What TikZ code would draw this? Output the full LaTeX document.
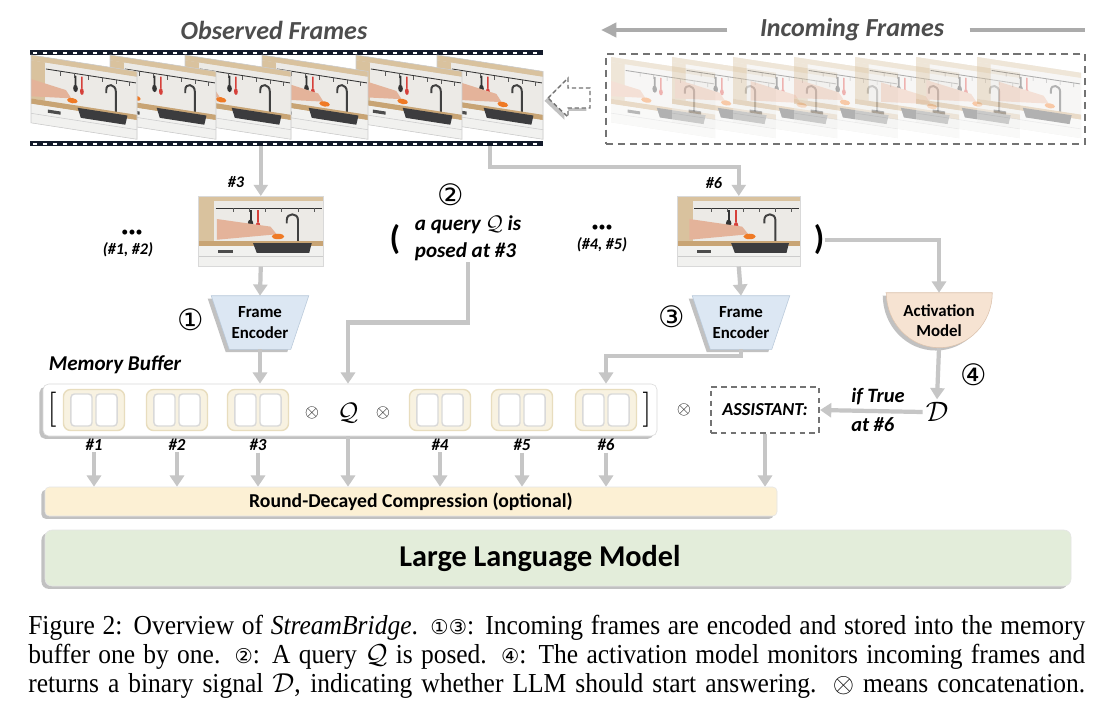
\documentclass[tikz,border=0pt]{standalone}
\usepackage{fix-cm}
\usepackage{fontspec}
\setmainfont{Carlito}
\newfontfamily\capfont{Liberation Serif}[FakeStretch=0.93]
\newfontfamily\circfont{DejaVu Sans}
\usetikzlibrary{arrows.meta,calc,shadows,backgrounds}
\definecolor{connGray}{HTML}{C6C6C6}
\definecolor{arrowGray}{HTML}{ABABAB}
\definecolor{titleGray}{HTML}{4D4D4D}
\definecolor{dashGray}{HTML}{737373}
\definecolor{encFill}{HTML}{DCE7F3}
\definecolor{encEdge}{HTML}{B9C9DA}
\definecolor{actFill}{HTML}{F6E3D2}
\definecolor{actEdge}{HTML}{DCC3AE}
\definecolor{compFill}{HTML}{FCF0D4}
\definecolor{llmFill}{HTML}{E3EDDA}
\definecolor{tokFill}{HTML}{F8F2E1}
\definecolor{tokEdge}{HTML}{E8DDBE}
\definecolor{filmBlack}{HTML}{141B2B}
\definecolor{wallC}{HTML}{DCD8D2}
\definecolor{splashC}{HTML}{ECEAE6}
\definecolor{woodC}{HTML}{D9C29E}
\definecolor{counterC}{HTML}{C8A474}
\definecolor{cabC}{HTML}{F1F1EF}
\definecolor{sinkC}{HTML}{3C3C3E}
\definecolor{skinC}{HTML}{E4B39A}
\definecolor{redC}{HTML}{D6403A}
\definecolor{carrotC}{HTML}{EF7A25}
\newcommand{\pxu}{0.025cm}
%% A small kitchen snapshot in a 100 x 64 box, #1 = where the hands are.
\newcommand{\kitchen}[1]{%%
  \begin{scope}
  \clip (0,0) rectangle (100,64);
  \fill[wallC] (0,0) rectangle (100,64);
  \fill[splashC] (13,5) rectangle (100,41);
  \fill[woodC] (0,0) rectangle (100,5);
  \fill[woodC] (0,5) rectangle (13,41);
  \draw[black!80,line width=0.6pt] (14,11) -- (99,11);
  \foreach \hk in {28,41,54,67,80,93}{\draw[black!65,line width=0.4pt] (\hk,11) -- (\hk,15);}
  \fill[black!80] (41.2,13) rectangle (42.8,22);
  \fill[black!80] (42,25) ellipse (2.2 and 3.5);
  \fill[redC] (47.3,13) rectangle (48.7,24);
  \fill[redC] (48,27) ellipse (1.8 and 3.2);
  \draw[black!75,line width=1.4pt] (80,44) -- (80,22) .. controls (80,15) and (71,15) .. (71,22) -- (71,25);
  \fill[counterC] (0,41) rectangle (100,46);
  \fill[cabC] (0,46) rectangle (100,64);
  \fill[sinkC] (44,43) -- (91,43) -- (89,52) -- (47,52) -- cycle;
  \draw[black!20,line width=0.4pt] (0,55) -- (100,55);
  \fill[black!70] (16,49) rectangle (28,52);
  \fill[skinC] (#1-45,21) -- (#1-2,28) -- (#1+3,35) -- (#1-45,40) -- cycle;
  \fill[carrotC] (#1+4,37) ellipse (5 and 2.5);
  \end{scope}
}
%% A snapshot as a node: name, left, top, width, height, hands.
\newcommand{\snapshot}[6]{%%
  \begin{scope}[shift={(#2,#3)},xscale=#4/100,yscale=#5/64]
    \kitchen{#6}
  \end{scope}
  \node[snapStyle,minimum width=#4*\pxu,minimum height=#5*\pxu] (#1) at (#2,#3) {};
}
\newcommand{\capcirc}[1]{{\circfont\fontsize{14.5}{14.5}\selectfont #1}}
\begin{document}
\begin{tikzpicture}[%%
  x=0.025cm,y=-0.025cm,
  conn/.style={draw=connGray,line width=3pt,-{Triangle[width=10pt,length=8pt]}},
  inArrow/.style={draw=arrowGray,line width=3.5pt,-{Triangle[width=10pt,length=11pt]}},
  inLine/.style={draw=arrowGray,line width=3.5pt},
  shadowStyle/.style={drop shadow={shadow xshift=-2.5pt,shadow yshift=-2pt,fill=black!40,opacity=0.6}},
  snapStyle/.style={anchor=north west,inner sep=0,draw=black!15,line width=0.4pt},
  titleStyle/.style={font=\bfseries\itshape\fontsize{18.5}{22}\selectfont,text=titleGray,inner sep=0},
  smallLabel/.style={font=\bfseries\itshape\fontsize{11.5}{13}\selectfont,inner sep=1pt},
  idxLabel/.style={font=\bfseries\itshape\fontsize{12}{14}\selectfont,inner sep=1pt},
  dotStyle/.style={font=\fontsize{10}{10}\selectfont,inner sep=0},
  encText/.style={font=\bfseries\fontsize{12}{14.5}\selectfont,align=center,
    minimum width=61*\pxu,minimum height=53*\pxu,inner sep=0},
  actText/.style={font=\bfseries\fontsize{12}{14.5}\selectfont,align=center,
    minimum width=106*\pxu,minimum height=55*\pxu,inner sep=0},
  circNum/.style={font=\circfont\fontsize{21}{21}\selectfont,inner sep=0},
  queryStyle/.style={font=\bfseries\itshape\fontsize{15}{19.5}\selectfont,align=left,inner sep=1pt},
  parenStyle/.style={font=\bfseries\fontsize{24}{24}\selectfont,inner sep=0},
  memLabel/.style={font=\bfseries\itshape\fontsize{15}{18}\selectfont,inner sep=0},
  memBox/.style={draw=black!15,fill=white,rounded corners=4pt,
    minimum width=614*\pxu,minimum height=52*\pxu,shadowStyle},
  bracketStyle/.style={font=\fontsize{25}{25}\selectfont,inner sep=0},
  tok/.style={fill=tokFill,draw=tokEdge,line width=1pt,rounded corners=5pt,
    minimum width=61*\pxu,minimum height=41*\pxu,
    path picture={\foreach \s in {-1,1}{
      \draw[black!15,fill=white,rounded corners=2.5pt]
        ([xshift=\s*8.9pt-7.5pt,yshift=-11.4pt]path picture bounding box.center) rectangle ++(15pt,22.8pt);}}},
  opStyle/.style={font=\fontsize{13}{13}\selectfont,inner sep=0},
  symStyle/.style={font=\fontsize{18}{18}\selectfont,inner sep=2pt},
  asstStyle/.style={draw=dashGray,dash pattern=on 4pt off 3pt,line width=1.5pt,
    minimum width=108*\pxu,minimum height=46*\pxu,inner sep=0,
    font=\bfseries\itshape\fontsize{13}{15}\selectfont},
  ifStyle/.style={font=\bfseries\itshape\fontsize{14.5}{16}\selectfont,inner sep=0,anchor=west},
  compStyle/.style={fill=compFill,draw=black!10,rounded corners=3pt,
    minimum width=732*\pxu,minimum height=29*\pxu,
    font=\bfseries\fontsize{14}{16}\selectfont,shadowStyle},
  llmStyle/.style={fill=llmFill,draw=black!10,rounded corners=5pt,
    minimum width=1026*\pxu,minimum height=56*\pxu,shadowStyle},
  llmText/.style={font=\bfseries\fontsize{21.5}{24}\selectfont,inner sep=0}
]
\useasboundingbox (0,0) rectangle (1116,718);
\begin{scope}[on background layer]
  \fill[white] (0,0) rectangle (1116,718);
\end{scope}
%%
%% Titles.
\node[titleStyle] (obsTitle) at (274,30) {Observed Frames};
\node[titleStyle] (inTitle) at (852,30) {Incoming Frames};
\coordinate (inArrowEnd) at (601,30);
\coordinate (inLineEnd) at (1085,30);
\draw[inArrow,shorten <=23pt] (inTitle.west) -- (inArrowEnd);
\draw[inLine,shorten <=18pt] (inTitle.east) -- (inLineEnd);
%%
%% The film strip of observed frames.
\node[minimum width=513*\pxu,minimum height=96*\pxu,inner sep=0] (strip) at (286.5,98) {};
\fill[filmBlack] (strip.north west) rectangle ++(513,5);
\fill[filmBlack] (strip.south west) rectangle ++(513,-5);
\foreach \k in {0,...,50}{
  \fill[white] (33+\k*10,51.5) rectangle ++(4,2);
  \fill[white] (33+\k*10,142.5) rectangle ++(4,2);
}
\foreach \fx/\hx in {437/58,356/40,262/55,185/30,110/20,31/35}{
  \begin{scope}[shift={(\fx,55)},xscale=1.06,yscale=1.06,yslant=-0.155]
    \kitchen{\hx}
    \draw[black!20,line width=0.4pt] (0,0) rectangle (100,64);
  \end{scope}
}
%% The hollow arrow.
\filldraw[fill=white,draw=dashGray,dash pattern=on 3pt off 2pt,line width=1pt,shadowStyle]
  (548,98) -- (568,78) -- (568,88) -- (590,88) -- (590,108) -- (568,108) -- (568,117) -- cycle;
%%
%% Incoming frames.
\foreach \i/\hx in {0/30,1/48,2/62,3/45,4/70,5/55,6/66}{
  \begin{scope}[shift={(611+61*\i,57)},xscale=1.04,yscale=1.02,yslant=-0.155,transparency group,opacity=0.4]
    \kitchen{\hx}
  \end{scope}
}
\node[draw=dashGray,dash pattern=on 5pt off 3.5pt,line width=1.8pt,
  minimum width=479*\pxu,minimum height=90*\pxu,inner sep=0] (inBox) at (845.5,99) {};
%%
%% Frames #3 and #6.
\snapshot{f3}{198}{196}{125}{70}{60}
\snapshot{f6}{677}{196}{123}{70}{55}
\node[smallLabel] (lbl3) at (236,182) {\#3};
\node[smallLabel] (lbl6) at (714,183) {\#6};
\node[dotStyle] (dotsA) at (132,233) {\textbullet\textbullet\textbullet};
\node[smallLabel] (skipA) at (128,250) {(\#1, \#2)};
\node[dotStyle] (dotsB) at (602,228) {\textbullet\textbullet\textbullet};
\node[smallLabel] (skipB) at (602,245) {(\#4, \#5)};
\node[parenStyle] (lpar) at (395,240) {(};
\node[parenStyle] (rpar) at (819,240) {)};
\node[circNum] (n2) at (451,195) {②};
\node[queryStyle] (query) at (468,238) {a query $\mathcal{Q}$ is\\posed at \#3};
%%
%% Encoders and the activation model.
\node[encText] (enc1) at (260,322.5) {Frame\\Encoder};
\node[encText] (enc2) at (741,322.5) {Frame\\Encoder};
\node[circNum] (n1) at (191,320) {①};
\node[circNum] (n3) at (672,317) {③};
\node[actText] (act) at (939,320.5) {Activation\\Model};
\node[circNum] (n4) at (974,375) {④};
\begin{scope}[on background layer]
  \foreach \e in {enc1,enc2}{
    \filldraw[fill=encFill,draw=encEdge,shadowStyle]
      ($(\e.north west)+(-18,0)$) -- ($(\e.north east)+(18,0)$) -- (\e.south east) -- (\e.south west) -- cycle;
  }
  \filldraw[fill=actFill,draw=actEdge,shadowStyle]
    (act.north west) -- (act.north east) arc[start angle=0,end angle=180,x radius=53,y radius=55] -- cycle;
\end{scope}
%%
%% The memory buffer.
\node[memLabel] (memLbl) at (115,365) {Memory Buffer};
\node[memBox] (mem) at (350,410) {};
\node[bracketStyle] (lbr) at (52,410) {$[$};
\node[bracketStyle] (rbr) at (647,410) {$]$};
\foreach \n/\x in {1/94,2/177,3/258,4/440,5/522,6/606}{
  \node[tok] (t\n) at (\x,410) {};
  \node[idxLabel] (i\n) at (\x,445) {\#\n};
}
\node[opStyle] (ox1) at (312,413) {$\otimes$};
\node[symStyle] (qsym) at (348,413) {$\mathcal{Q}$};
\node[opStyle] (ox2) at (383,413) {$\otimes$};
\node[opStyle] (ox3) at (684,410) {$\otimes$};
\node[asstStyle] (asst) at (765,410) {ASSISTANT:};
\node[symStyle,font=\fontsize{20}{20}\selectfont] (dsym) at (937,412) {$\mathcal{D}$};
\node[ifStyle] (ifTrue) at (851,397) {if True};
\node[ifStyle] (atSix) at (851,425) {at \#6};
%%
%% Compression and the LLM.
\node[compStyle] (comp) at (411,501.5) {Round-Decayed Compression (optional)};
\node[llmStyle] (llm) at (558,558) {};
\node[llmText] (llmTxt) at (540,558) {Large Language Model};
%%
%% Connectors.
\coordinate (tap6) at (490,146);
\draw[conn] (strip.south -| f3.north) -- (f3.north);
\draw[conn] (tap6) -- ++(0,21) -| (f6.north);
\draw[conn] (f3.south) -- (enc1.north);
\draw[conn] (f6.south) -- (enc2.north);
\draw[conn] (enc1.south) -- (enc1.south |- mem.north);
\draw[conn] (enc2.south) -- ++(0,7) -| (t6 |- mem.north);
\draw[conn] (query.south) -- ++(0,60) -| (qsym |- mem.north);
\draw[conn] (rpar.east) -| (act.north);
\draw[conn] (act.south) -- (dsym.north);
\draw[conn] (dsym.west) -- (asst.east);
\foreach \n in {1,...,6}{
  \draw[conn] (i\n.south) -- (i\n.south |- comp.north);
}
\draw[conn] (qsym |- mem.south) -- (qsym |- comp.north);
\draw[conn] (asst.south) -- (asst.south |- comp.north);
%%
%% Caption.
\node[anchor=north west,inner sep=0,text width=1057*\pxu,align=justify,
  font=\capfont\fontsize{19.5}{20.6}\selectfont] (caption) at (28,615)
  {\hyphenpenalty=10000 Figure 2: Overview of \textit{StreamBridge}. \capcirc{①③}: Incoming frames are encoded and stored into the memory\linebreak
  buffer one by one. \capcirc{②}: A query $\mathcal{Q}$ is posed. \capcirc{④}: The activation model monitors incoming frames and\linebreak
  returns a binary signal $\mathcal{D}$, indicating whether LLM should start answering. $\otimes$ means concatenation.\parfillskip=0pt\par};
\end{tikzpicture}
\end{document}
